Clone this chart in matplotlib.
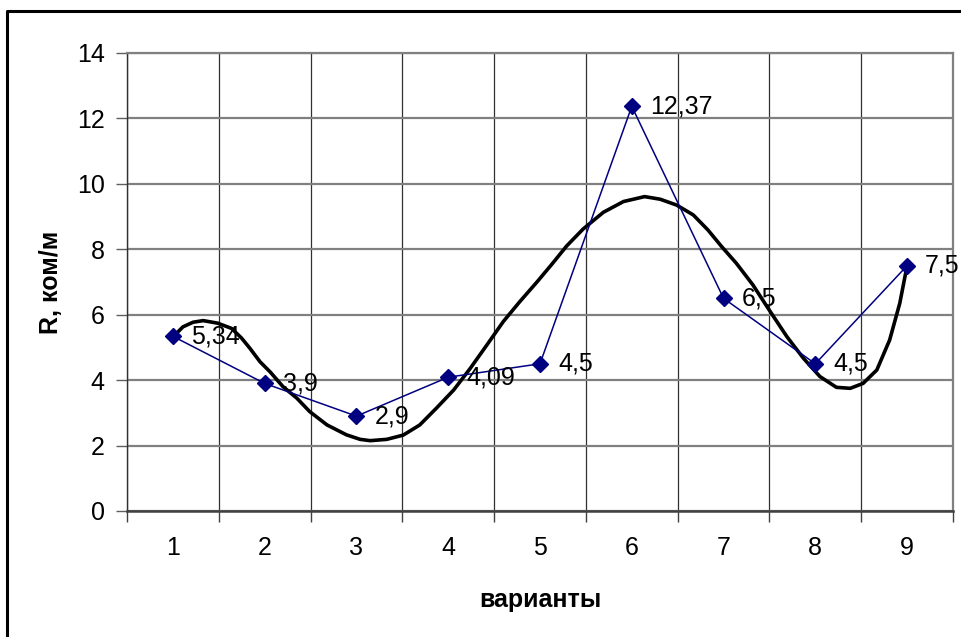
import numpy as np
import matplotlib.pyplot as plt
from matplotlib.lines import Line2D

plt.rcParams['font.family'] = ['Liberation Sans', 'DejaVu Sans']

# варианты и сопротивление
variants = [1, 2, 3, 4, 5, 6, 7, 8, 9]
r_values = [5.34, 3.9, 2.9, 4.09, 4.5, 12.37, 6.5, 4.5, 7.5]
r_labels = ['5,34', '3,9', '2,9', '4,09', '4,5', '12,37', '6,5', '4,5', '7,5']
y_ticks = [0, 2, 4, 6, 8, 10, 12, 14]

# линия тренда (сглаженная кривая)
trend_x = [1.00, 1.11, 1.22, 1.33, 1.49, 1.64, 1.75, 1.84, 1.95, 2.06,
           2.20, 2.35, 2.49, 2.68, 2.89, 3.04, 3.15, 3.33, 3.51, 3.69,
           3.87, 4.06, 4.24, 4.42, 4.60, 4.78, 4.97, 5.14, 5.29, 5.47,
           5.69, 5.91, 6.14, 6.31, 6.49, 6.67, 6.83, 6.98, 7.14, 7.32,
           7.51, 7.69, 7.87, 8.05, 8.23, 8.38, 8.52, 8.67, 8.81, 8.92, 9.00]
trend_y = [5.32, 5.63, 5.77, 5.82, 5.74, 5.58, 5.28, 4.97, 4.56, 4.25,
           3.80, 3.45, 3.04, 2.63, 2.33, 2.19, 2.15, 2.19, 2.32, 2.63,
           3.14, 3.70, 4.36, 5.07, 5.79, 6.40, 7.01, 7.58, 8.10, 8.62,
           9.13, 9.46, 9.61, 9.53, 9.35, 9.05, 8.59, 8.08, 7.57, 6.91,
           6.09, 5.33, 4.67, 4.11, 3.78, 3.75, 3.90, 4.31, 5.23, 6.35, 7.50]

FS = 18

fig = plt.figure(figsize=(9.62, 6.37), dpi=100)
ax = fig.add_axes([127 / 962, 1 - 511 / 637, 826 / 962, 458 / 637])

ax.plot(trend_x, trend_y, color='black', lw=2.6, solid_joinstyle='round',
        solid_capstyle='round', zorder=3)

ax.plot(variants, r_values, color='#000080', lw=1.1, marker='D', markersize=8.5,
        markeredgecolor='#000080', zorder=4)
for xi, yi, lab in zip(variants, r_values, r_labels):
    ax.annotate(lab, (xi, yi), xytext=(13, 0), textcoords='offset points',
                va='center', ha='left', fontsize=FS, zorder=5)

ax.set_xlim(0.5, 9.5)
ax.set_ylim(0, 14)

# границы категорий: сетка и засечки
bounds = np.arange(0.5, 9.6, 1.0)
ax.set_xticks(bounds)
ax.set_xticklabels([])
ax.set_xticks(variants, minor=True)
ax.set_xticklabels([str(v) for v in variants], minor=True, fontsize=FS)
ax.tick_params(axis='x', which='major', length=8, width=1, color='#404040', direction='out')
ax.tick_params(axis='x', which='minor', length=0, pad=18)
ax.set_yticks(y_ticks)
ax.set_yticklabels([str(v) for v in y_ticks], fontsize=FS)
ax.tick_params(axis='y', length=8, width=1, color='#606060', pad=8)

ax.grid(True, axis='y', color='#808080', lw=1.6)
ax.grid(True, axis='x', which='major', color='#303030', lw=0.9)
ax.set_axisbelow(True)

for side in ['top', 'right']:
    ax.spines[side].set_color('#808080')
    ax.spines[side].set_linewidth(1.6)
ax.spines['left'].set_color('#303030')
ax.spines['left'].set_linewidth(1.0)
ax.spines['bottom'].set_color('#404040')
ax.spines['bottom'].set_linewidth(1.8)

ax.set_xlabel('варианты', fontsize=FS, fontweight='bold', labelpad=20)
ax.set_ylabel('R, ком/м', fontsize=FS, fontweight='bold', labelpad=10)

# рамка диаграммы
fig.add_artist(Line2D([7 / 962, 7 / 962, 1.0], [0.0, 1 - 11 / 637, 1 - 11 / 637],
                      transform=fig.transFigure, color='black', lw=2.2))

fig.savefig('out.png', dpi=100)
